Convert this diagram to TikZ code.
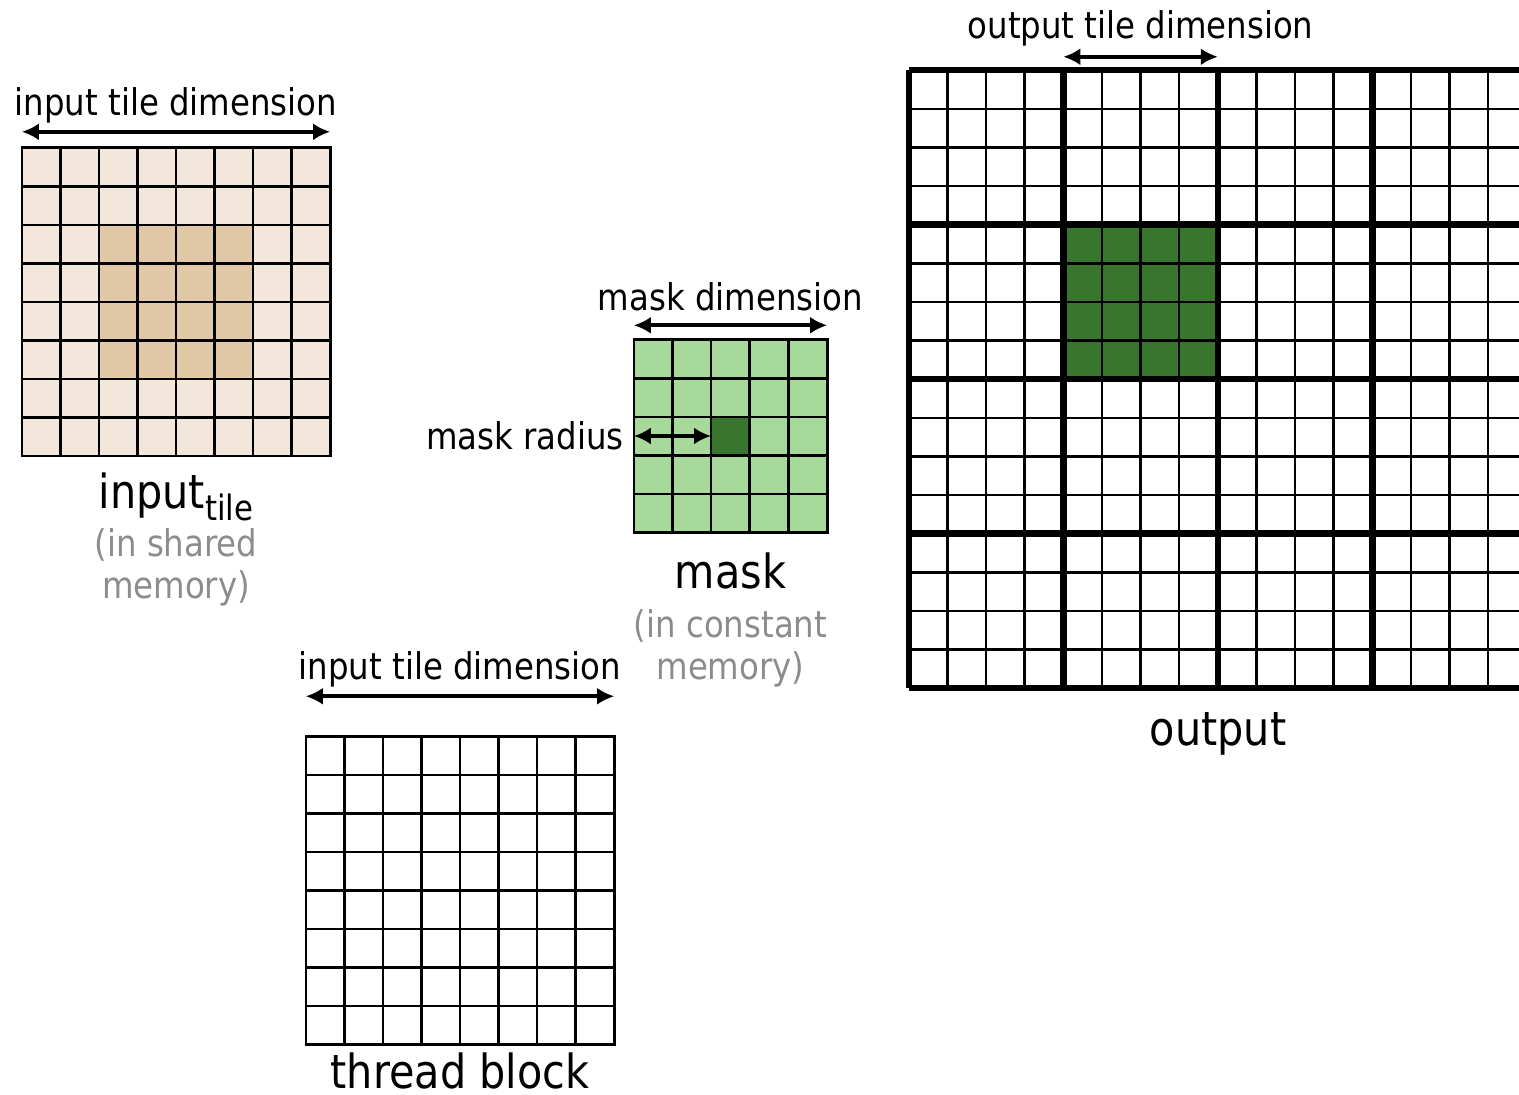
\documentclass[tikz,border=0pt]{standalone}
\usepackage{fontspec}
\setmainfont[FakeStretch=0.88]{DejaVu Sans}
\usetikzlibrary{positioning,arrows.meta}

\definecolor{tileLight}{RGB}{242,231,218}
\definecolor{tileDark}{RGB}{225,201,168}
\definecolor{maskLight}{RGB}{166,217,154}
\definecolor{maskDark}{RGB}{56,118,46}
\definecolor{noteGray}{RGB}{140,140,140}

\begin{document}
\begin{tikzpicture}[x=1pt, y=1pt,
        cellblock/.style={
            % The shape
            rectangle,
            inner sep = 0pt,
            minimum size = #1,
            % The border
            draw = none
        },
        thinlines/.style={
            % The border
            line width = 2.6pt,
            draw = black
        },
        thicklines/.style={
            % The border
            line width = 6.5pt,
            draw = black
        },
        dimarrow/.style={
            % The line
            line width = 4.4pt,
            draw = black,
            % The tips
            {Latex[length=17pt,width=17pt]}-{Latex[length=17pt,width=17pt]}
        },
        smalltext/.style={
            inner sep = 0pt,
            % The color
            color = black,
            % Font
            font = \fontsize{36.8}{42}\selectfont
        },
        bigtext/.style={
            inner sep = 0pt,
            % The color
            color = black,
            % Font
            font = \fontsize{47}{52}\selectfont
        },
        graytext/.style={
            inner sep = 0pt,
            align = center,
            % The color
            color = noteGray,
            % Font
            font = \fontsize{36.8}{42}\selectfont
        },
    ]
        \clip (0,0) rectangle (1519,1095);

        % input tile (shared memory)
        \node (inputTile) [cellblock=308pt, fill=tileLight] at (176,793) {};
        \fill[tileDark] ([shift={(77,77)}]inputTile.south west) rectangle ([shift={(-77,-77)}]inputTile.north east);
        \draw[thinlines, shift={(inputTile.south west)}, step=38.5pt] (0,0) grid (308.1,308.1);
        \draw[thinlines] (inputTile.south west) rectangle (inputTile.north east);
        \coordinate (inDimL) at ([yshift=16pt]inputTile.north west);
        \coordinate (inDimR) at ([yshift=16pt]inputTile.north east);
        \path (inDimL) edge[dimarrow] node (inDimText) [smalltext,pos=0.5,above=6pt] {input tile dimension} (inDimR);
        \node (inputCaption) [bigtext,below=16pt of inputTile] {input\raisebox{-12pt}{\fontsize{35}{38}\selectfont tile}};
        \node (inputNote) [graytext,below=8pt of inputCaption] {(in shared\\memory)};

        % mask (constant memory)
        \node (mask) [cellblock=193pt, fill=maskLight] at (730.5,659) {};
        \fill[maskDark] ([shift={(77.2,77.2)}]mask.south west) rectangle ([shift={(-77.2,-77.2)}]mask.north east);
        \draw[thinlines, shift={(mask.south west)}, step=38.6pt] (0,0) grid (193.1,193.1);
        \draw[thinlines] (mask.south west) rectangle (mask.north east);
        \coordinate (maskDimL) at ([yshift=14pt]mask.north west);
        \coordinate (maskDimR) at ([yshift=14pt]mask.north east);
        \path (maskDimL) edge[dimarrow] node (maskDimText) [smalltext,pos=0.5,above=12pt] {mask dimension} (maskDimR);
        \coordinate (radiusEnd) at ([xshift=77.2pt]mask.west);
        \path (mask.west) edge[dimarrow] node (radiusText) [smalltext,pos=0,left=8pt] {mask radius} (radiusEnd);
        \node (maskCaption) [bigtext,below=20pt of mask] {mask};
        \node (maskNote) [graytext,below=20pt of maskCaption] {(in constant\\memory)};

        % thread block
        \node (threadBlock) [cellblock=308pt] at (460,204.5) {};
        \draw[thinlines, shift={(threadBlock.south west)}, step=38.5pt] (0,0) grid (308.1,308.1);
        \draw[thinlines] (threadBlock.south west) rectangle (threadBlock.north east);
        \coordinate (blockDimL) at ([yshift=40pt]threadBlock.north west);
        \coordinate (blockDimR) at ([yshift=40pt]threadBlock.north east);
        \path (blockDimL) edge[dimarrow] node (blockDimText) [smalltext,pos=0.5,above=7pt] {input tile dimension} (blockDimR);
        \node (threadCaption) [bigtext,below=8pt of threadBlock] {thread block};

        % output
        \node (output) [cellblock=618pt] at (1218,716) {};
        \fill[maskDark] ([shift={(154.5,309)}]output.south west) rectangle ([shift={(309,463.5)}]output.south west);
        \draw[thinlines, shift={(output.south west)}, step=38.625pt] (0,0) grid (618.1,618.1);
        \draw[thicklines, shift={(output.south west)}, step=154.5pt] (0,0) grid (618.1,618.1);
        \coordinate (outDimL) at ([shift={(154.5,13)}]output.north west);
        \coordinate (outDimR) at ([shift={(309,13)}]output.north west);
        \path (outDimL) edge[dimarrow] node (outDimText) [smalltext,pos=0.5,above=8pt] {output tile dimension} (outDimR);
        \node (outputCaption) [bigtext,below=24pt of output] {output};

    \end{tikzpicture}
\end{document}
